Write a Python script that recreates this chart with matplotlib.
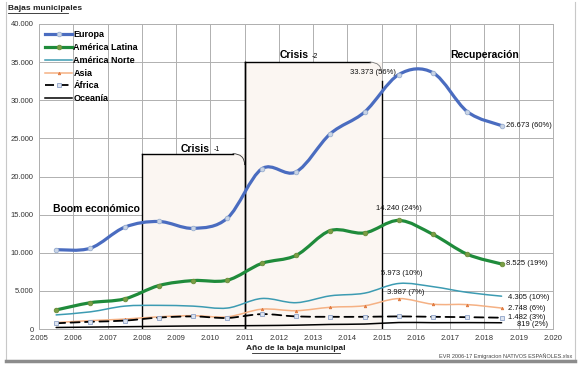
import matplotlib.pyplot as plt
import numpy as np
from matplotlib.path import Path
from matplotlib.patches import PathPatch, Rectangle
from matplotlib.ticker import FuncFormatter, MultipleLocator

plt.rcParams['font.family'] = ['Liberation Sans', 'DejaVu Sans']

# Data
years = [2005.5, 2006.5, 2007.5, 2008.5, 2009.5, 2010.5, 2011.5,
         2012.5, 2013.5, 2014.5, 2015.5, 2016.5, 2017.5, 2018.5]
europa = [10400, 10600, 13350, 14100, 13200, 14550, 21000,
          20600, 25600, 28450, 33373, 33600, 28500, 26673]
america_latina = [2500, 3450, 3950, 5700, 6350, 6400, 8600,
                  9650, 12900, 12600, 14240, 12400, 9800, 8525]
america_norte = [1850, 2250, 3000, 3100, 3000, 2750, 4000,
                 3450, 4350, 4700, 5973, 5550, 4800, 4305]
asia = [850, 1100, 1300, 1600, 1750, 1600, 2600,
        2400, 2850, 3050, 3987, 3250, 3200, 2748]
africa = [750, 950, 1100, 1500, 1650, 1450, 1950,
          1650, 1600, 1600, 1650, 1600, 1550, 1482]
oceania = [200, 250, 300, 350, 400, 420, 450,
           500, 600, 650, 850, 830, 840, 819]

# Phase boxes: (x0, x1, top)
crisis1 = (2008, 2011, 23000)
crisis2 = (2011, 2015, 35000)


def smooth_path(x, y):
    # Catmull-Rom converted to cubic bezier segments (like Excel smoothed lines)
    x = np.asarray(x, float)
    y = np.asarray(y, float)
    px = np.concatenate([[x[0]], x, [x[-1]]])
    py = np.concatenate([[y[0]], y, [y[-1]]])
    verts = [(x[0], y[0])]
    codes = [Path.MOVETO]
    for i in range(1, len(px) - 2):
        c1 = (px[i] + (px[i + 1] - px[i - 1]) / 6, py[i] + (py[i + 1] - py[i - 1]) / 6)
        c2 = (px[i + 1] - (px[i + 2] - px[i]) / 6, py[i + 1] - (py[i + 2] - py[i]) / 6)
        verts += [c1, c2, (px[i + 1], py[i + 1])]
        codes += [Path.CURVE4] * 3
    return Path(verts, codes)


def draw_series(ax, y, color, lw, ls='-', marker=None, mfc=None, mec=None, ms=3, label=None):
    patch = PathPatch(smooth_path(years, y), facecolor='none', edgecolor=color,
                      lw=lw, ls=ls, zorder=4, capstyle='round')
    ax.add_patch(patch)
    if marker:
        ax.plot(years, y, ls='none', marker=marker, ms=ms, mfc=mfc, mec=mec, mew=0.6, zorder=5)
    ax.plot([], [], color=color, lw=lw, ls=ls, marker=marker, ms=ms, mfc=mfc, mec=mec,
            mew=0.6, label=label)


def phase_box(ax, x0, x1, top, edge):
    ax.add_patch(Rectangle((x0, 0), x1 - x0, top, facecolor='#FBF6F2', edgecolor='none', zorder=1))
    ax.plot([x0, x0], [0, top], color='black', lw=1.0, zorder=3)
    ax.plot([x0, x1 - 0.35], [top, top], color='black', lw=1.0, zorder=3)
    corner = Path([(x1 - 0.35, top), (x1, top), (x1, top - 1500)],
                  [Path.MOVETO, Path.CURVE3, Path.CURVE3])
    ax.add_patch(PathPatch(corner, facecolor='none', edgecolor=edge, lw=0.6, zorder=3))


fig = plt.figure(figsize=(5.83, 3.65), dpi=100)
ax = fig.add_axes([39 / 583, 1 - 329 / 365, 514 / 583, 305 / 365])

ax.set_xlim(2005, 2020)
ax.set_ylim(0, 40000)
ax.xaxis.set_major_locator(MultipleLocator(1))
ax.yaxis.set_major_locator(MultipleLocator(5000))
ax.xaxis.set_major_formatter(FuncFormatter(lambda v, p: '{:.3f}'.format(v / 1000)))
ax.yaxis.set_major_formatter(FuncFormatter(lambda v, p: '{:,.0f}'.format(v).replace(',', '.')))
ax.grid(True, color='#B0B0B0', lw=0.7, zorder=0)
ax.set_axisbelow(True)
ax.tick_params(labelsize=5.5, length=0, colors='#333333', pad=4)
for s in ax.spines.values():
    s.set_color('#B0B0B0')
    s.set_linewidth(0.7)

phase_box(ax, *crisis1, edge='#333333')
phase_box(ax, *crisis2, edge='#777777')
ax.plot([2011, 2011], [0, 35000], color='black', lw=1.0, zorder=3)
ax.plot([2015, 2015], [0, 32500], color='black', lw=1.0, zorder=3)

draw_series(ax, europa, '#4A6CC0', 2.3, marker='o', mfc='#C9D4E6', mec='#9AAFCF', ms=3.3, label='Europa')
draw_series(ax, america_latina, '#1F8B3B', 2.3, marker='o', mfc='#7A9E45', mec='#6A8E3A', ms=3.3, label='América Latina')
draw_series(ax, america_norte, '#3C9BB2', 1.1, label='América Norte')
draw_series(ax, asia, '#F5B184', 1.1, marker='^', mfc='#E07A40', mec='#E07A40', ms=1.8, label='Asia')
draw_series(ax, africa, 'black', 1.3, ls=(0, (5, 3)), marker='s', mfc='#DDE4F0', mec='#8FA3C8', ms=3.0, label='África')
draw_series(ax, oceania, 'black', 1.1, label='Oceanía')

leg = ax.legend(loc='upper left', bbox_to_anchor=(0.0, 1.0), frameon=False, fontsize=6.5,
                handlelength=3.0, handletextpad=0.1, labelspacing=0.42, borderaxespad=0.3)
for t in leg.get_texts():
    t.set_fontweight('bold')

# Phase labels
ax.text(2005.4, 15700, 'Boom económico', fontsize=7.5, fontweight='bold', ha='left', va='center')
ax.text(2009.55, 23600, 'Crisis', fontsize=7.5, fontweight='bold', ha='center', va='center')
ax.text(2010.1, 23500, '-1', fontsize=5, ha='left', va='center')
ax.text(2012.45, 35900, 'Crisis', fontsize=7.5, fontweight='bold', ha='center', va='center')
ax.text(2012.95, 35800, '-2', fontsize=5, ha='left', va='center')
ax.text(2018.0, 35950, 'Recuperación', fontsize=7.5, fontweight='bold', ha='center', va='center')

# Value annotations
ann = dict(fontsize=5.5, color='#111111', zorder=6)
ax.text(2015.42, 33700, '33.373 (56%)', ha='right', va='center', **ann)
ax.text(2018.62, 26673, '26.673 (60%)', ha='left', va='center', **ann)
ax.text(2015.5, 15300, '14.240 (24%)', ha='center', va='bottom', **ann)
ax.text(2018.62, 8525, '8.525 (19%)', ha='left', va='center', **ann)
ax.text(2015.6, 6800, '5.973 (10%)', ha='center', va='bottom', **ann)
ax.text(2015.7, 4350, '3.987 (7%)', ha='center', va='bottom', **ann)
ax.text(2018.7, 4150, '4.305 (10%)', ha='left', va='center', **ann)
ax.text(2018.7, 2650, '2.748 (6%)', ha='left', va='center', **ann)
ax.text(2018.7, 1500, '1.482 (3%)', ha='left', va='center', **ann)
ax.text(2018.95, 600, '819 (2%)', ha='left', va='center', **ann)

# Axis titles
fig.text(8 / 583, 1 - 9 / 365, 'Bajas municipales', fontsize=6, fontweight='bold',
         ha='left', va='center', color='#222222')
fig.add_artist(plt.Line2D([8 / 583, 68 / 583], [1 - 13 / 365] * 2, color='#222222', lw=0.6))
fig.text(296 / 583, 1 - 349 / 365, 'Año de la baja municipal', fontsize=6, fontweight='bold',
         ha='center', va='center', color='#222222')
fig.add_artist(plt.Line2D([252 / 583, 340 / 583], [1 - 353 / 365] * 2, color='#222222', lw=0.6))
fig.text(572 / 583, 1 - 356 / 365, 'EVR 2006-17 Emigracion NATIVOS ESPAÑOLES.xlsx', fontsize=4,
         ha='right', va='center', color='#444444')

# Frame of the chart area
fig.add_artist(plt.Line2D([6 / 583, 6 / 583], [1 - 2 / 365, 1 - 360 / 365], color='#C8C8C8', lw=0.8))
fig.add_artist(plt.Line2D([575 / 583, 575 / 583], [1 - 2 / 365, 1 - 360 / 365], color='#C8C8C8', lw=0.8))
fig.add_artist(plt.Line2D([6 / 583, 575 / 583], [1 - 361 / 365] * 2, color='#8C8C8C', lw=2.5))

fig.savefig('out.png', dpi=100)
